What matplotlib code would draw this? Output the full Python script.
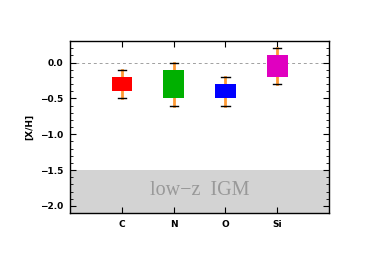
import matplotlib
matplotlib.use("Agg")
import matplotlib.pyplot as plt
from matplotlib.ticker import MultipleLocator

elements = ['C', 'N', 'O', 'Si']
box_lo = [-0.4, -0.5, -0.5, -0.2]
box_hi = [-0.2, -0.1, -0.3, 0.1]
err_lo = [-0.5, -0.6, -0.6, -0.3]
err_hi = [-0.1, 0.0, -0.2, 0.2]
colors = ['#ff0000', '#00b000', '#0000ff', '#e000c0']

fig = plt.figure(figsize=(3.73, 2.63), dpi=100)
ax = fig.add_axes([0.188, 0.190, 0.694, 0.654])

xpos = [1, 2, 3, 4]
ax.axhspan(-2.1, -1.5, color='#d3d3d3', lw=0, zorder=0)
ax.text(2.5, -1.79, 'low\u2212z  IGM', family='Liberation Serif', fontsize=14.5,
        color='#999999', ha='center', va='center')
ax.axhline(0, color='#a0a0a0', ls=(0, (3, 3)), lw=0.7, zorder=1)

for x, lo, hi, elo, ehi, c in zip(xpos, box_lo, box_hi, err_lo, err_hi, colors):
    ax.plot([x, x], [elo, ehi], color='#ff9933', lw=2.0, zorder=2)
    ax.plot([x - 0.08, x + 0.08], [elo, elo], color='k', lw=1.0, zorder=3)
    ax.plot([x - 0.08, x + 0.08], [ehi, ehi], color='k', lw=1.0, zorder=3)
    ax.bar(x, hi - lo, bottom=lo, width=0.4, color=c, zorder=4)

ax.set_xlim(0, 5)
ax.set_ylim(-2.1, 0.3)
ax.set_xticks(xpos)
ax.set_xticklabels(elements)
ax.yaxis.set_major_locator(MultipleLocator(0.5))
ax.yaxis.set_minor_locator(MultipleLocator(0.1))
ax.tick_params(axis='both', which='both', direction='in', top=True, right=True,
               labelsize=6.5, pad=5)
ax.tick_params(axis='y', which='major', length=4)
ax.tick_params(axis='y', which='minor', length=2)
ax.tick_params(axis='x', which='major', length=4)
for lab in ax.get_xticklabels() + ax.get_yticklabels():
    lab.set_fontweight('semibold')
ax.set_ylabel('[X/H]', fontsize=6.5, fontweight='semibold')
for s in ax.spines.values():
    s.set_linewidth(1.0)

fig.savefig('out.png', dpi=100)
